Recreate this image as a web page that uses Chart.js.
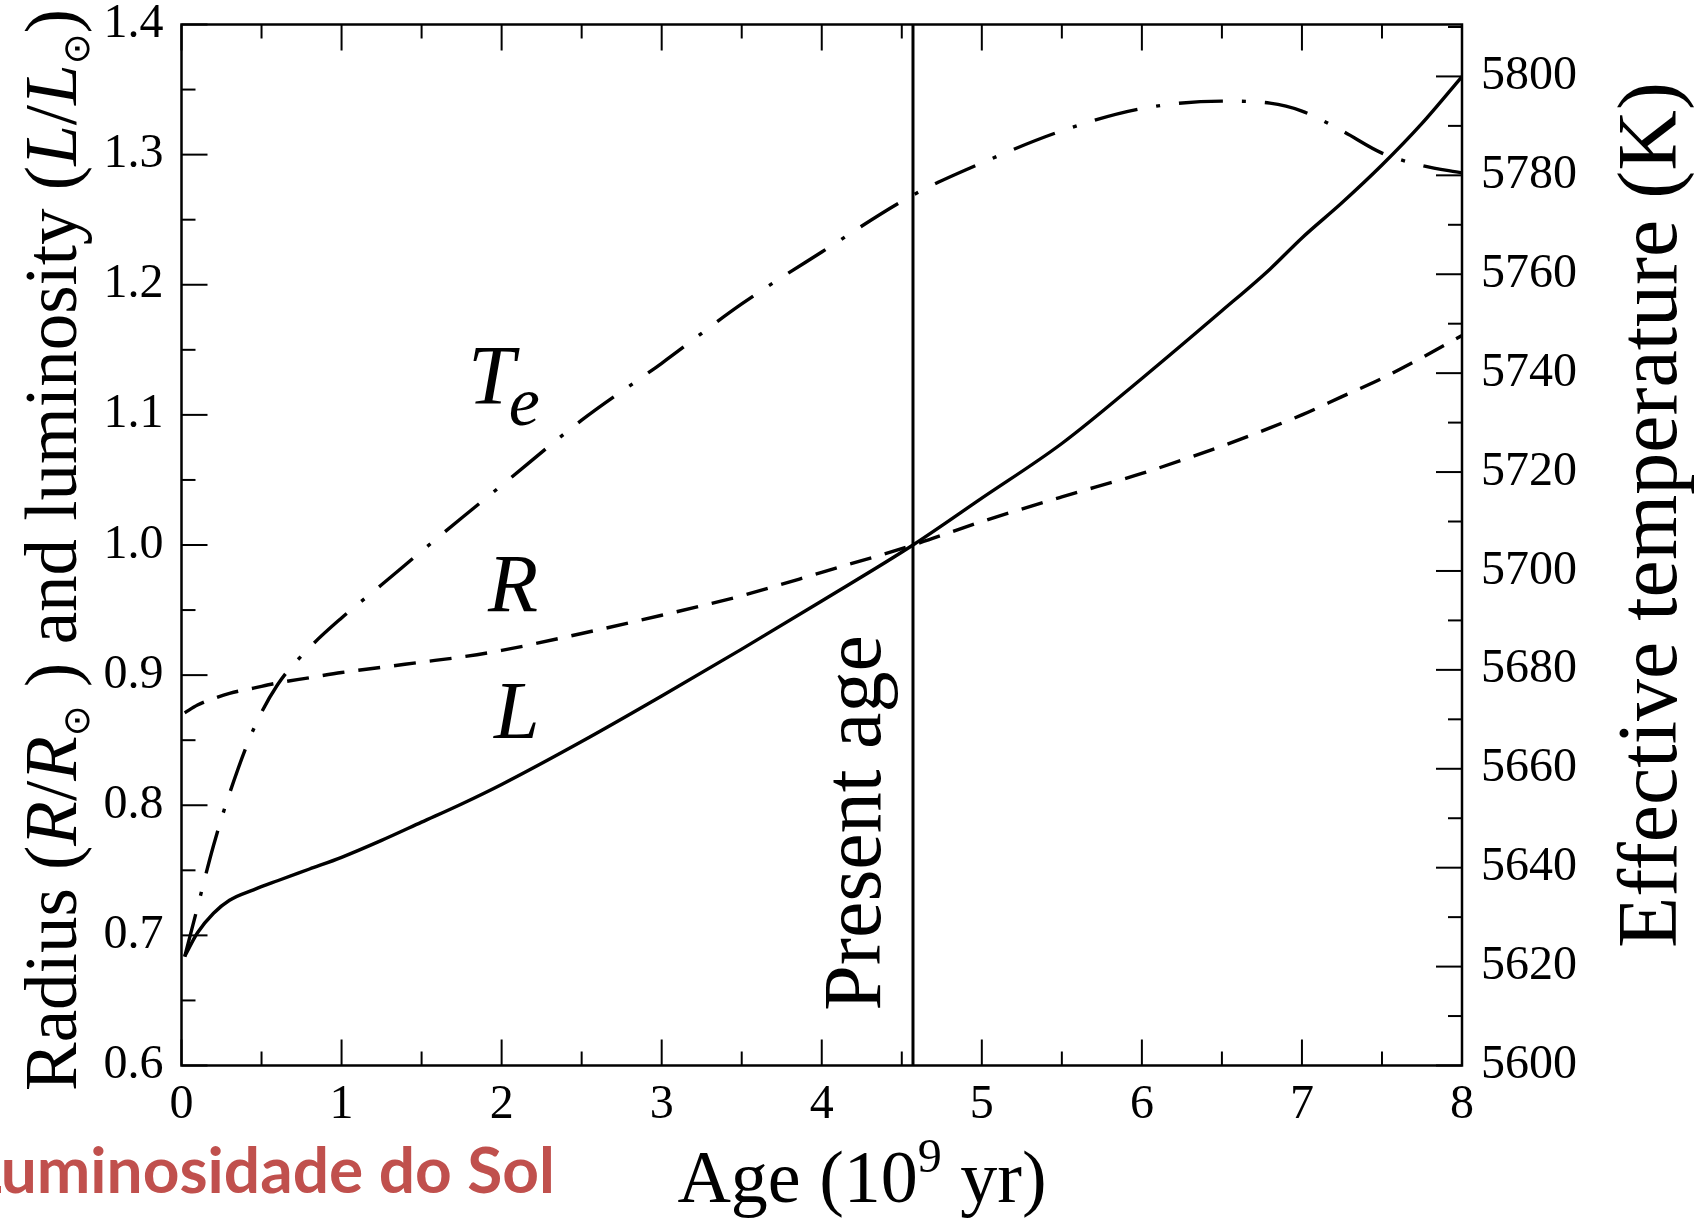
<!DOCTYPE html>
<html>
<head>
<meta charset="utf-8">
<script src="https://cdn.jsdelivr.net/npm/chart.js@4.4.1/dist/chart.umd.min.js"></script>
<style>
  html, body { margin: 0; padding: 0; background: #fff; overflow: hidden; }
  #wrap { position: relative; width: 1701px; height: 1218px; }
</style>
</head>
<body>
<div id="wrap"><canvas id="sunChart" width="1701" height="1218"></canvas></div>
<script>
// Evolução do Sol: raio, luminosidade e temperatura efetiva em função da idade

// idade (10^9 anos)
const ages = [0.02, 0.1, 0.2, 0.3, 0.45, 0.6, 0.8, 1.0, 1.25, 1.5, 1.75, 2.0, 2.5, 3.0, 3.5,
              4.0, 4.57, 5.0, 5.5, 6.0, 6.5, 6.8, 7.0, 7.25, 7.5, 7.75, 8.0];
// L / L_sol
const luminosity = [0.684, 0.702, 0.717, 0.727, 0.735, 0.742, 0.751, 0.760, 0.773, 0.787, 0.801, 0.816, 0.849, 0.884, 0.920,
                    0.957, 1.000, 1.036, 1.078, 1.128, 1.180, 1.212, 1.236, 1.263, 1.292, 1.324, 1.360];
// R / R_sol
const radius = [0.871, 0.877, 0.882, 0.886, 0.890, 0.894, 0.898, 0.902, 0.906, 0.910, 0.914, 0.919, 0.932, 0.946, 0.961,
                0.979, 1.000, 1.018, 1.037, 1.055, 1.076, 1.090, 1.100, 1.114, 1.128, 1.144, 1.161];
// temperatura efetiva (K)
const teff = [5622, 5632, 5644.5, 5655, 5668, 5677, 5684.5, 5690.5, 5697.2, 5704, 5710.7, 5717.3, 5730.5, 5742, 5754,
              5764.5, 5776, 5782.5, 5789, 5793.5, 5795, 5794.6, 5793, 5789, 5784.5, 5782, 5780.5];

const presentAge = 4.57;

const ageTicks = [0, 1, 2, 3, 4, 5, 6, 7, 8];
const ratioTicks = [0.6, 0.7, 0.8, 0.9, 1.0, 1.1, 1.2, 1.3, 1.4];
const teffTicks = [5600, 5620, 5640, 5660, 5680, 5700, 5720, 5740, 5760, 5780, 5800];
const teffMax = 5810.5;

const SERIF = '"Liberation Serif", "Times New Roman", serif';
const TICK_FONT = { family: SERIF, size: 48, lineHeight: 1 };
const MAJOR = 26, MINOR = 14;
const AREA_TOP = 24.5;

function toPoints(ys) {
    return ages.map((a, i) => ({ x: a, y: ys[i] }));
}

function setTicks(values) {
    return scale => { scale.ticks = values.map(v => ({ value: v })); };
}

// largura/altura fixas dos eixos, sem o recuo automático dos rótulos
function fixWidth(w) {
    return s => { s.width = w; s.paddingTop = AREA_TOP; s.paddingBottom = 0; };
}

// texto com trechos em fontes diferentes (itálico, índice, expoente)
function drawRich(ctx, parts, x, y, angle) {
    ctx.save();
    ctx.translate(x, y);
    ctx.rotate(angle);
    ctx.textAlign = 'left';
    ctx.textBaseline = 'alphabetic';
    let total = 0;
    parts.forEach(p => {
        ctx.font = p.font;
        p.w = ctx.measureText(p.text).width;
        total += p.w;
    });
    let cx = -total / 2;
    parts.forEach(p => {
        ctx.font = p.font;
        ctx.fillText(p.text, cx, p.dy || 0);
        cx += p.w;
    });
    ctx.restore();
}

// moldura, marcas internas e textos
const decorPlugin = {
    id: 'decor',
    afterDraw(chart) {
        const { ctx, chartArea: a, scales } = chart;
        ctx.save();
        ctx.strokeStyle = '#000';
        ctx.fillStyle = '#000';
        ctx.lineWidth = 2.5;
        ctx.strokeRect(a.left, a.top, a.right - a.left, a.bottom - a.top);

        ctx.lineWidth = 2;
        const seg = (x1, y1, x2, y2) => {
            ctx.beginPath(); ctx.moveTo(x1, y1); ctx.lineTo(x2, y2); ctx.stroke();
        };
        ageTicks.forEach((v, i) => {
            const px = scales.x.getPixelForValue(v);
            seg(px, a.bottom, px, a.bottom - MAJOR);
            seg(px, a.top, px, a.top + MAJOR);
            if (i < ageTicks.length - 1) {
                const pm = scales.x.getPixelForValue((v + ageTicks[i + 1]) / 2);
                seg(pm, a.bottom, pm, a.bottom - MINOR);
                seg(pm, a.top, pm, a.top + MINOR);
            }
        });
        ratioTicks.forEach((v, i) => {
            const py = scales.y.getPixelForValue(v);
            seg(a.left, py, a.left + MAJOR, py);
            if (i < ratioTicks.length - 1) {
                const pm = scales.y.getPixelForValue((v + ratioTicks[i + 1]) / 2);
                seg(a.left, pm, a.left + MINOR, pm);
            }
        });
        teffTicks.forEach(v => {
            const py = scales.y2.getPixelForValue(v);
            seg(a.right, py, a.right - MAJOR, py);
            const pm = scales.y2.getPixelForValue(v + 10);
            if (pm > a.top) seg(a.right, pm, a.right - MINOR, pm);
        });

        // títulos dos eixos
        const T = 73;
        const rm = `${T}px ${SERIF}`;
        const it = `italic ${T}px ${SERIF}`;
        const sun = `${Math.round(T * 0.5)}px "DejaVu Sans"`;
        drawRich(ctx, [
            { text: 'Radius (', font: rm },
            { text: 'R', font: it },
            { text: '/', font: rm },
            { text: 'R', font: it },
            { text: '\u2299', font: sun, dy: T * 0.18 },
            { text: ' ) and luminosity (', font: rm },
            { text: 'L', font: it },
            { text: '/', font: rm },
            { text: 'L', font: it },
            { text: '\u2299', font: sun, dy: T * 0.18 },
            { text: ')', font: rm }
        ], 76, 550, -Math.PI / 2);

        drawRich(ctx, [{ text: 'Effective temperature (K)', font: `84px ${SERIF}` }],
            1676, 515, -Math.PI / 2);

        drawRich(ctx, [
            { text: 'Age (10', font: `74px ${SERIF}` },
            { text: '9', font: `48px ${SERIF}`, dy: -30 },
            { text: ' yr)', font: `74px ${SERIF}` }
        ], 862, 1202, 0);

        drawRich(ctx, [{ text: 'Present age', font: `82px ${SERIF}` }],
            880, 823, -Math.PI / 2);

        // rótulos das curvas
        ctx.textAlign = 'left';
        ctx.textBaseline = 'alphabetic';
        ctx.font = `italic 84px ${SERIF}`;
        ctx.fillText('T', 468, 404);
        const tw = ctx.measureText('T').width;
        ctx.font = `italic 70px ${SERIF}`;
        ctx.fillText('e', 468 + tw - 6, 425);
        ctx.font = `italic 82px ${SERIF}`;
        ctx.fillText('R', 488, 611);
        ctx.fillText('L', 494, 738);

        // legenda do slide
        ctx.font = 'bold 64px Lato';
        ctx.fillStyle = '#C0504D';
        ctx.textAlign = 'right';
        ctx.fillText('Luminosidade do Sol', 555, 1193);
        ctx.restore();
    }
};

const lineStyle = {
    borderColor: '#000',
    borderWidth: 3.4,
    pointRadius: 0,
    fill: false,
    cubicInterpolationMode: 'monotone',
    borderCapStyle: 'butt'
};

new Chart(document.getElementById('sunChart'), {
    type: 'line',
    data: {
        datasets: [
            { ...lineStyle, label: 'L', data: toPoints(luminosity), yAxisID: 'y' },
            { ...lineStyle, label: 'R', data: toPoints(radius), yAxisID: 'y', borderDash: [22, 14] },
            { ...lineStyle, label: 'Te', data: toPoints(teff), yAxisID: 'y2', borderDash: [44, 19, 4, 19] },
            {
                ...lineStyle, label: 'Present age', borderWidth: 3, yAxisID: 'y',
                data: [{ x: presentAge, y: ratioTicks[0] }, { x: presentAge, y: ratioTicks[ratioTicks.length - 1] }]
            }
        ]
    },
    options: {
        responsive: false,
        devicePixelRatio: 1,
        animation: false,
        events: [],
        layout: { padding: { top: AREA_TOP, left: 0, right: 0, bottom: 0 } },
        plugins: {
            legend: { display: false },
            tooltip: { enabled: false }
        },
        scales: {
            x: {
                type: 'linear',
                min: 0,
                max: 8,
                afterBuildTicks: setTicks(ageTicks),
                afterFit: s => { s.height = 152.5; s.paddingLeft = 0; s.paddingRight = 0; },
                grid: { display: false, drawTicks: false },
                border: { display: false },
                ticks: { font: TICK_FONT, color: '#000', padding: 16, maxRotation: 0 }
            },
            y: {
                type: 'linear',
                position: 'left',
                min: 0.6,
                max: 1.4,
                afterBuildTicks: setTicks(ratioTicks),
                afterFit: fixWidth(181.5),
                grid: { display: false, drawTicks: false },
                border: { display: false },
                ticks: { font: TICK_FONT, color: '#000', padding: 18, callback: v => v.toFixed(1) }
            },
            y2: {
                type: 'linear',
                position: 'right',
                min: 5600,
                max: teffMax,
                afterBuildTicks: setTicks(teffTicks),
                afterFit: fixWidth(239),
                grid: { display: false, drawTicks: false },
                border: { display: false },
                ticks: { font: TICK_FONT, color: '#000', padding: 19, callback: v => String(v) }
            }
        }
    },
    plugins: [decorPlugin]
});
</script>
</body>
</html>
